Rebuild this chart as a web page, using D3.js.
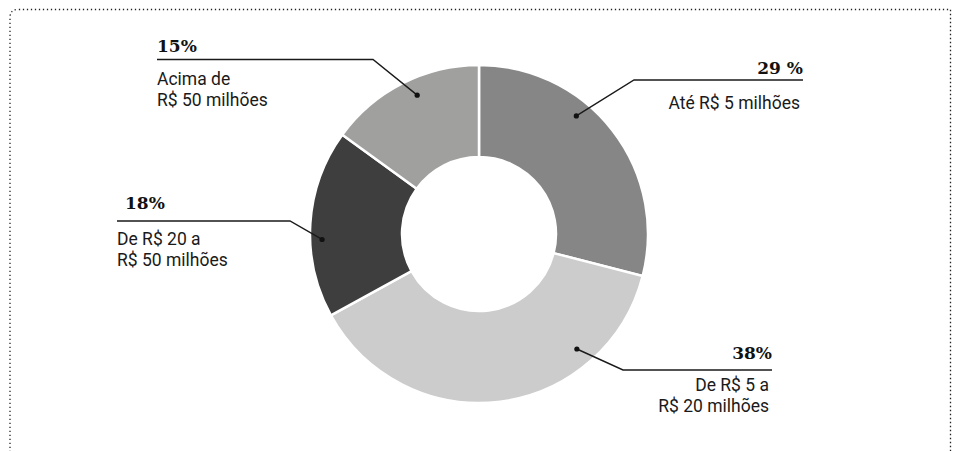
<!DOCTYPE html>
<html><head><meta charset="utf-8">
<script src="https://cdn.jsdelivr.net/npm/d3@7"></script>
<style>
html,body{margin:0;padding:0;background:#fff;}
svg{display:block;}
</style></head>
<body>
<svg id="c" width="957" height="451"></svg>
<script>
// ---- data ----
const categories = ["Até R$ 5 milhões", "De R$ 5 a R$ 20 milhões", "De R$ 20 a R$ 50 milhões", "Acima de R$ 50 milhões"];
const values = [29, 38, 18, 15];
const percentLabels = ["29 %", "38%", "18%", "15%"];
const labelLines = [["Até R$ 5 milhões"], ["De R$ 5 a", "R$ 20 milhões"], ["De R$ 20 a", "R$ 50 milhões"], ["Acima de", "R$ 50 milhões"]];
const colors = ["#858685", "#cbcccb", "#3d3e3d", "#a0a19f"];

// ---- layout ----
const W = 957, H = 451;
const cx = 479, cy = 234, R = 169, r0 = 77;
// per slice: dot angle (deg from top), dot radius, leader line, text offsets
const layout = [
  {dotA: 39.5, dotR: 153, x1: 634, x2: 803, y: 80, align: "end", pctDy: -6, txtDy: 29},
  {dotA: 139.6, dotR: 151, x1: 623, x2: 772, y: 370, align: "end", pctDy: -11, txtDy: 21},
  {dotA: 268, dotR: 157, x1: 117, x2: 290, y: 221, align: "start", pctDx: 8, pctDy: -12, txtDy: 24},
  {dotA: 336, dotR: 152, x1: 157, x2: 373, y: 59.5, align: "start", pctDx: 0, pctDy: -8, txtDy: 25}
];

const svg = d3.select("#c");

// dotted frame, open at bottom, rounded top-left corner
const fx0 = 10, fy0 = 9.5, fx1 = 950.5, rc = 8;
svg.append("path")
  .attr("d", `M${fx0},${H+5} L${fx0},${fy0+rc} Q${fx0},${fy0} ${fx0+rc},${fy0} L${fx1},${fy0} L${fx1},${H+5}`)
  .attr("fill", "none").attr("stroke", "#222").attr("stroke-width", 1.3)
  .attr("stroke-dasharray", "1.3 2.7");

const pie = d3.pie().sort(null).value(d => d);
const arc = d3.arc().innerRadius(r0).outerRadius(R);
const arcs = pie(values);

const g = svg.append("g").attr("transform", `translate(${cx},${cy})`);
g.selectAll("path.slice").data(arcs).join("path")
  .attr("class", "slice")
  .attr("d", arc)
  .attr("fill", (d, i) => colors[i])
  .attr("stroke", "#fff").attr("stroke-width", 2.5);

const sans = "Roboto, 'Open Sans', sans-serif";
const serif = "'DejaVu Serif', Georgia, serif";

arcs.forEach((a, i) => {
  const L = layout[i];
  const p = d3.pointRadial(L.dotA * Math.PI / 180, L.dotR);
  const dx = cx + p[0], dy = cy + p[1];
  const joinX = L.align === "end" ? L.x1 : L.x2;
  // leader line
  svg.append("path")
    .attr("d", `M${dx},${dy} L${joinX},${L.y} L${L.align === "end" ? L.x2 : L.x1},${L.y}`)
    .attr("fill", "none").attr("stroke", "#1a1a1a").attr("stroke-width", 1.4);
  svg.append("circle").attr("cx", dx).attr("cy", dy).attr("r", 2.6).attr("fill", "#111");
  // percent label
  const tx = L.align === "end" ? L.x2 : L.x1 + (L.pctDx || 0);
  svg.append("text")
    .attr("x", tx).attr("y", L.y + L.pctDy)
    .attr("text-anchor", L.align)
    .attr("font-family", serif).attr("font-weight", "bold").attr("font-size", 17)
    .attr("fill", "#111")
    .text(percentLabels[i]);
  // category label: one text element per line
  const lx = L.align === "end" ? L.x2 - 3 : L.x1;
  labelLines[i].forEach((ln, k) => {
    svg.append("text")
      .attr("x", lx)
      .attr("y", L.y + L.txtDy + k * 21)
      .attr("text-anchor", L.align)
      .attr("font-family", sans).attr("font-size", 17.5)
      .attr("fill", "#1a1a1a")
      .text(ln);
  });
});
</script>
</body></html>
